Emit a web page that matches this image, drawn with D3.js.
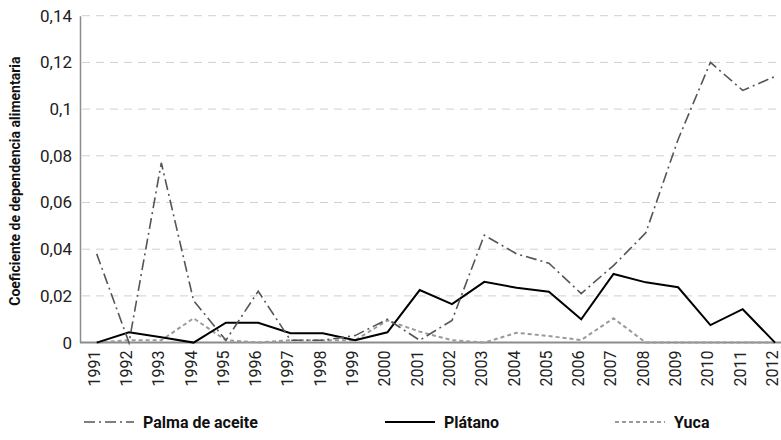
<!DOCTYPE html>
<html>
<head>
<meta charset="utf-8">
<script src="https://cdn.jsdelivr.net/npm/d3@7"></script>
<style>
  body { margin: 0; background: #fff; }
  text { font-family: Roboto, "DejaVu Sans", sans-serif; }
</style>
</head>
<body>
<div id="chart"></div>
<script>

  var years = ["1991","1992","1993","1994","1995","1996","1997","1998","1999","2000","2001",
               "2002","2003","2004","2005","2006","2007","2008","2009","2010","2011","2012"];

  var palma   = [0.038, 0, 0.077, 0.018, 0.001, 0.022, 0.001, 0.001, 0.003, 0.010, 0.001,
                 0.0095, 0.046, 0.038, 0.034, 0.021, 0.033, 0.047, 0.087, 0.120, 0.108, 0.114];
  var platano = [0, 0.0044, 0.0023, 0, 0.0085, 0.0085, 0.004, 0.004, 0.001, 0.0044, 0.0225,
                 0.0165, 0.026, 0.0235, 0.0218, 0.010, 0.0294, 0.0258, 0.0237, 0.0075, 0.0143, 0];
  var yuca    = [0, 0.001, 0.001, 0.0104, 0.001, 0, 0.001, 0.001, 0.001, 0.0095, 0.0047,
                 0.001, 0, 0.0042, 0.0028, 0.0011, 0.0104, 0, 0, 0, 0, 0];

  var yTicks = [0, 0.02, 0.04, 0.06, 0.08, 0.1, 0.12, 0.14];
  var seriesNames = ["Palma de aceite", "Plátano", "Yuca"];

  //=========================================================================
  // Dimensions
  //=========================================================================
  var width = 781, height = 440;
  var margin = { top: 15.7, left: 80, bottom: 97.4 };
  var plotBottom = height - margin.bottom;

  var svg = d3.select("#chart").append("svg")
    .attr("width", width)
    .attr("height", height);

  var x = d3.scalePoint().domain(years).range([96.7, 775]);
  var y = d3.scaleLinear().domain([0, 0.14]).range([plotBottom, margin.top]);

  var fmt = function(d) { return d === 0 ? "0" : String(+d.toFixed(2)).replace(".", ","); };

  //=========================================================================
  // Grid + axes
  //=========================================================================
  svg.append("g")
    .selectAll("line")
    .data(yTicks.filter(function(d){ return d > 0; }))
    .enter().append("line")
    .attr("x1", margin.left + 2).attr("x2", width)
    .attr("y1", function(d){ return y(d); })
    .attr("y2", function(d){ return y(d); })
    .attr("stroke", "#d0d0d0")
    .attr("stroke-width", 1)
    .attr("stroke-dasharray", "8,6");

  var yAxis = svg.append("g")
    .attr("transform", "translate(" + margin.left + ",0)")
    .call(d3.axisLeft(y).tickValues(yTicks).tickFormat(fmt).tickSize(0).tickPadding(8));
  yAxis.select(".domain").attr("stroke", "#8c8c8c").attr("stroke-width", 1.5);
  yAxis.selectAll("text")
    .style("font-family", "Roboto, sans-serif")
    .style("font-size", "17px")
    .attr("fill", "#222");

  var xAxis = svg.append("g")
    .attr("transform", "translate(0," + plotBottom + ")")
    .call(d3.axisBottom(x).tickSize(0).tickPadding(0));
  xAxis.select(".domain").remove();
  xAxis.selectAll("text")
    .attr("transform", "rotate(-90)")
    .attr("x", -8)
    .attr("y", 0)
    .attr("dy", "0.15em")
    .style("text-anchor", "end")
    .style("font-family", "Roboto, sans-serif")
    .style("font-size", "16px")
    .attr("fill", "#222");

  svg.append("line")
    .attr("x1", margin.left).attr("x2", width)
    .attr("y1", plotBottom).attr("y2", plotBottom)
    .attr("stroke", "#8c8c8c")
    .attr("stroke-width", 2);

  svg.append("text")
    .attr("transform", "translate(20," + ((margin.top + plotBottom) / 2 + 2) + ") rotate(-90)")
    .attr("text-anchor", "middle")
    .style("font-size", "14px")
    .style("font-weight", "bold")
    .attr("fill", "#111")
    .text("Coeficiente de dependencia alimentaria");

  //=========================================================================
  // Lines
  //=========================================================================
  var styles = [
    { data: palma,   color: "#555", width: 1.6, dash: "11,4,2,4" },
    { data: platano, color: "#000", width: 2,   dash: null },
    { data: yuca,    color: "#9a9a9a", width: 2, dash: "4,3" }
  ];

  var line = d3.line()
    .x(function(d, i){ return x(years[i]); })
    .y(function(d){ return y(d); });

  // draw yuca first, palma last
  [2, 1, 0].forEach(function(k){
    var s = styles[k];
    svg.append("path")
      .datum(s.data)
      .attr("d", line)
      .attr("fill", "none")
      .attr("stroke", s.color)
      .attr("stroke-width", s.width)
      .attr("stroke-dasharray", s.dash);
  });

  //=========================================================================
  // Legend
  //=========================================================================
  var legendX = [84, 385, 615];
  var legend = svg.append("g").attr("transform", "translate(0,422)");
  seriesNames.forEach(function(name, i){
    var s = styles[i];
    legend.append("line")
      .attr("x1", legendX[i]).attr("x2", legendX[i] + 50)
      .attr("y1", 0).attr("y2", 0)
      .attr("stroke", s.color)
      .attr("stroke-width", s.width)
      .attr("stroke-dasharray", s.dash);
    legend.append("text")
      .attr("x", legendX[i] + 59)
      .attr("y", 0)
      .attr("dy", "0.35em")
      .style("font-size", "16px")
      .style("font-weight", "bold")
      .attr("fill", "#111")
      .text(name);
  });

</script>
</body>
</html>
